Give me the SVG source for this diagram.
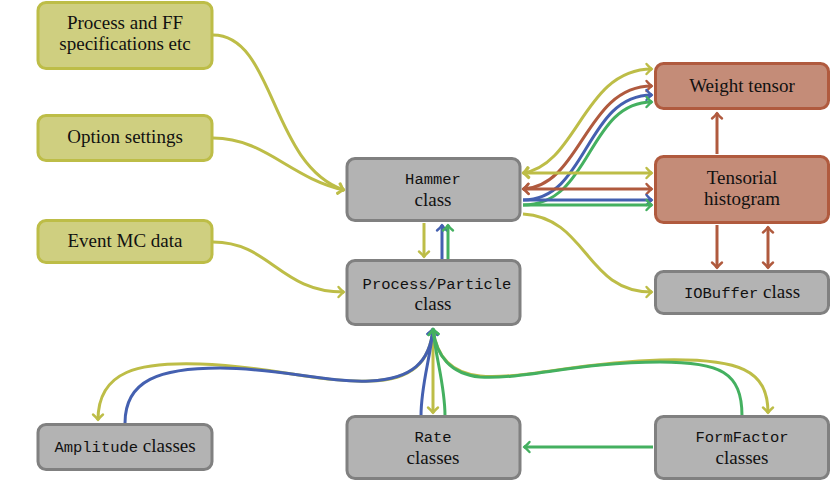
<svg xmlns="http://www.w3.org/2000/svg" width="831" height="480" viewBox="0 0 831 480">
<style>
.box rect{stroke-width:3}
.ol rect{fill:#cfcf80;stroke:#bdbd47}
.gr rect{fill:#b3b3b3;stroke:#808080}
.br rect{fill:#c48c78;stroke:#b05a3e}
text{font-family:"Liberation Serif","DejaVu Serif","Times New Roman",serif;font-size:19px;fill:#111;text-anchor:middle}
.tt{font-family:"Liberation Mono","DejaVu Sans Mono","Courier New",monospace;font-size:15.5px}
.c{fill:none;stroke-width:3}
.o{stroke:#bdbd47}
.b{stroke:#b05a3e}
.u{stroke:#4460b0}
.g{stroke:#44b060}
.mk{fill:none;stroke-width:2.4;stroke-linecap:round;stroke-linejoin:round}
</style>
<defs>
<marker id="ao" markerUnits="userSpaceOnUse" viewBox="-8 -7 10 14" refX="0" refY="0" markerWidth="10" markerHeight="14" orient="auto-start-reverse"><path class="mk" stroke="#bdbd47" d="M-5.5,-5 Q-2,-1 0,0 Q-2,1 -5.5,5"/></marker>
<marker id="ab" markerUnits="userSpaceOnUse" viewBox="-8 -7 10 14" refX="0" refY="0" markerWidth="10" markerHeight="14" orient="auto-start-reverse"><path class="mk" stroke="#b05a3e" d="M-5.5,-5 Q-2,-1 0,0 Q-2,1 -5.5,5"/></marker>
<marker id="au" markerUnits="userSpaceOnUse" viewBox="-8 -7 10 14" refX="0" refY="0" markerWidth="10" markerHeight="14" orient="auto-start-reverse"><path class="mk" stroke="#4460b0" d="M-5.5,-5 Q-2,-1 0,0 Q-2,1 -5.5,5"/></marker>
<marker id="ag" markerUnits="userSpaceOnUse" viewBox="-8 -7 10 14" refX="0" refY="0" markerWidth="10" markerHeight="14" orient="auto-start-reverse"><path class="mk" stroke="#44b060" d="M-5.5,-5 Q-2,-1 0,0 Q-2,1 -5.5,5"/></marker>
</defs>

<g id="connectors">
<path class="c o" d="M213,35 C275,35 270,165 344,190" marker-end="url(#ao)"/>
<path class="c o" d="M213,138 C265,138 290,178 344,190" marker-end="url(#ao)"/>
<path class="c o" d="M213,242 C270,242 280,292 344,292" marker-end="url(#ao)"/>
<path class="c o" d="M424,223 L424,257" marker-end="url(#ao)"/>
<path class="c u" d="M442,259 L442,225" marker-end="url(#au)"/>
<path class="c g" d="M448,259 L448,225" marker-end="url(#ag)"/>
<path class="c o" d="M523,173 C578,165 583,69 652,69" marker-start="url(#ao)" marker-end="url(#ao)"/>
<path class="c b" d="M523,189 C582,186 585,86 652,86" marker-start="url(#ab)" marker-end="url(#ab)"/>
<path class="c u" d="M523,200 C588,200 585,95 652,95" marker-end="url(#au)"/>
<path class="c g" d="M523,205 C592,205 587,102 652,102" marker-end="url(#ag)"/>
<path class="c o" d="M523,173 L652,173" marker-start="url(#ao)" marker-end="url(#ao)"/>
<path class="c b" d="M523,189 L652,189" marker-start="url(#ab)" marker-end="url(#ab)"/>
<path class="c u" d="M523,200 L652,200" marker-end="url(#au)"/>
<path class="c g" d="M523,205 L652,205" marker-end="url(#ag)"/>
<path class="c o" d="M523,214 C588,218 585,292 652,292" marker-end="url(#ao)"/>
<path class="c b" d="M717,154 L717,113" marker-end="url(#ab)"/>
<path class="c b" d="M717,225 L717,268" marker-end="url(#ab)"/>
<path class="c b" d="M768,227 L768,268" marker-start="url(#ab)" marker-end="url(#ab)"/>
<path class="c o" d="M433,329 C430,362 412,380 370,381 C320,383 270,366 200,364 C140,362 98,370 98,420" marker-end="url(#ao)"/>
<path class="c u" d="M125,423 C125,380 160,368 220,368 C280,368 325,383 370,381 C412,379 430,362 433,329" marker-end="url(#au)"/>
<path class="c o" d="M433,329 L433,413" marker-end="url(#ao)"/>
<path class="c u" d="M421,416 C421,385 430,360 433,329" marker-end="url(#au)"/>
<path class="c o" d="M433,329 C436,355 450,373 480,376 C520,380 580,362 660,360 C740,358 768,370 768,413" marker-end="url(#ao)"/>
<path class="c g" d="M742,416 C742,372 720,362 660,362 C580,362 520,380 480,377 C450,374 436,355 433,329" marker-end="url(#ag)"/>
<path class="c g" d="M445,416 C445,385 436,360 433,329" marker-end="url(#ag)"/>
<path class="c g" d="M653,447 L524,447" marker-end="url(#ag)"/>
</g>

<g id="spec" class="box ol"><rect x="38" y="2.5" width="174" height="66" rx="8"/><text x="125" y="29">Process and FF</text><text x="125" y="50">specifications etc</text></g>
<g id="options" class="box ol"><rect x="38" y="115.5" width="174" height="45" rx="8"/><text x="125" y="143">Option settings</text></g>
<g id="event" class="box ol"><rect x="38" y="220.5" width="174" height="42" rx="8"/><text x="125" y="247">Event MC data</text></g>
<g id="hammer" class="box gr"><rect x="347" y="158.5" width="173" height="62" rx="8"/><text class="tt" x="433" y="184">Hammer</text><text x="433" y="206">class</text></g>
<g id="procpart" class="box gr"><rect x="347" y="260.5" width="173" height="64" rx="8"/><text class="tt" x="437" y="289">Process/Particle</text><text x="433" y="310">class</text></g>
<g id="weight" class="box br"><rect x="655.5" y="63.5" width="173" height="45" rx="8"/><text x="742" y="92">Weight tensor</text></g>
<g id="tensorial" class="box br"><rect x="655.5" y="156.5" width="173" height="66" rx="8"/><text x="742" y="184">Tensorial</text><text x="742" y="205">histogram</text></g>
<g id="iobuffer" class="box gr"><rect x="655.5" y="271.5" width="173" height="42" rx="8"/><text x="742" y="298"><tspan class="tt">IOBuffer</tspan> class</text></g>
<g id="amplitude" class="box gr"><rect x="38" y="424.5" width="174" height="45" rx="8"/><text x="125" y="452"><tspan class="tt">Amplitude</tspan> classes</text></g>
<g id="rate" class="box gr"><rect x="347" y="416.5" width="173" height="62" rx="8"/><text class="tt" x="433" y="442">Rate</text><text x="433" y="464">classes</text></g>
<g id="formfactor" class="box gr"><rect x="655.5" y="416.5" width="173" height="62" rx="8"/><text class="tt" x="742" y="442">FormFactor</text><text x="742" y="464">classes</text></g>
</svg>
